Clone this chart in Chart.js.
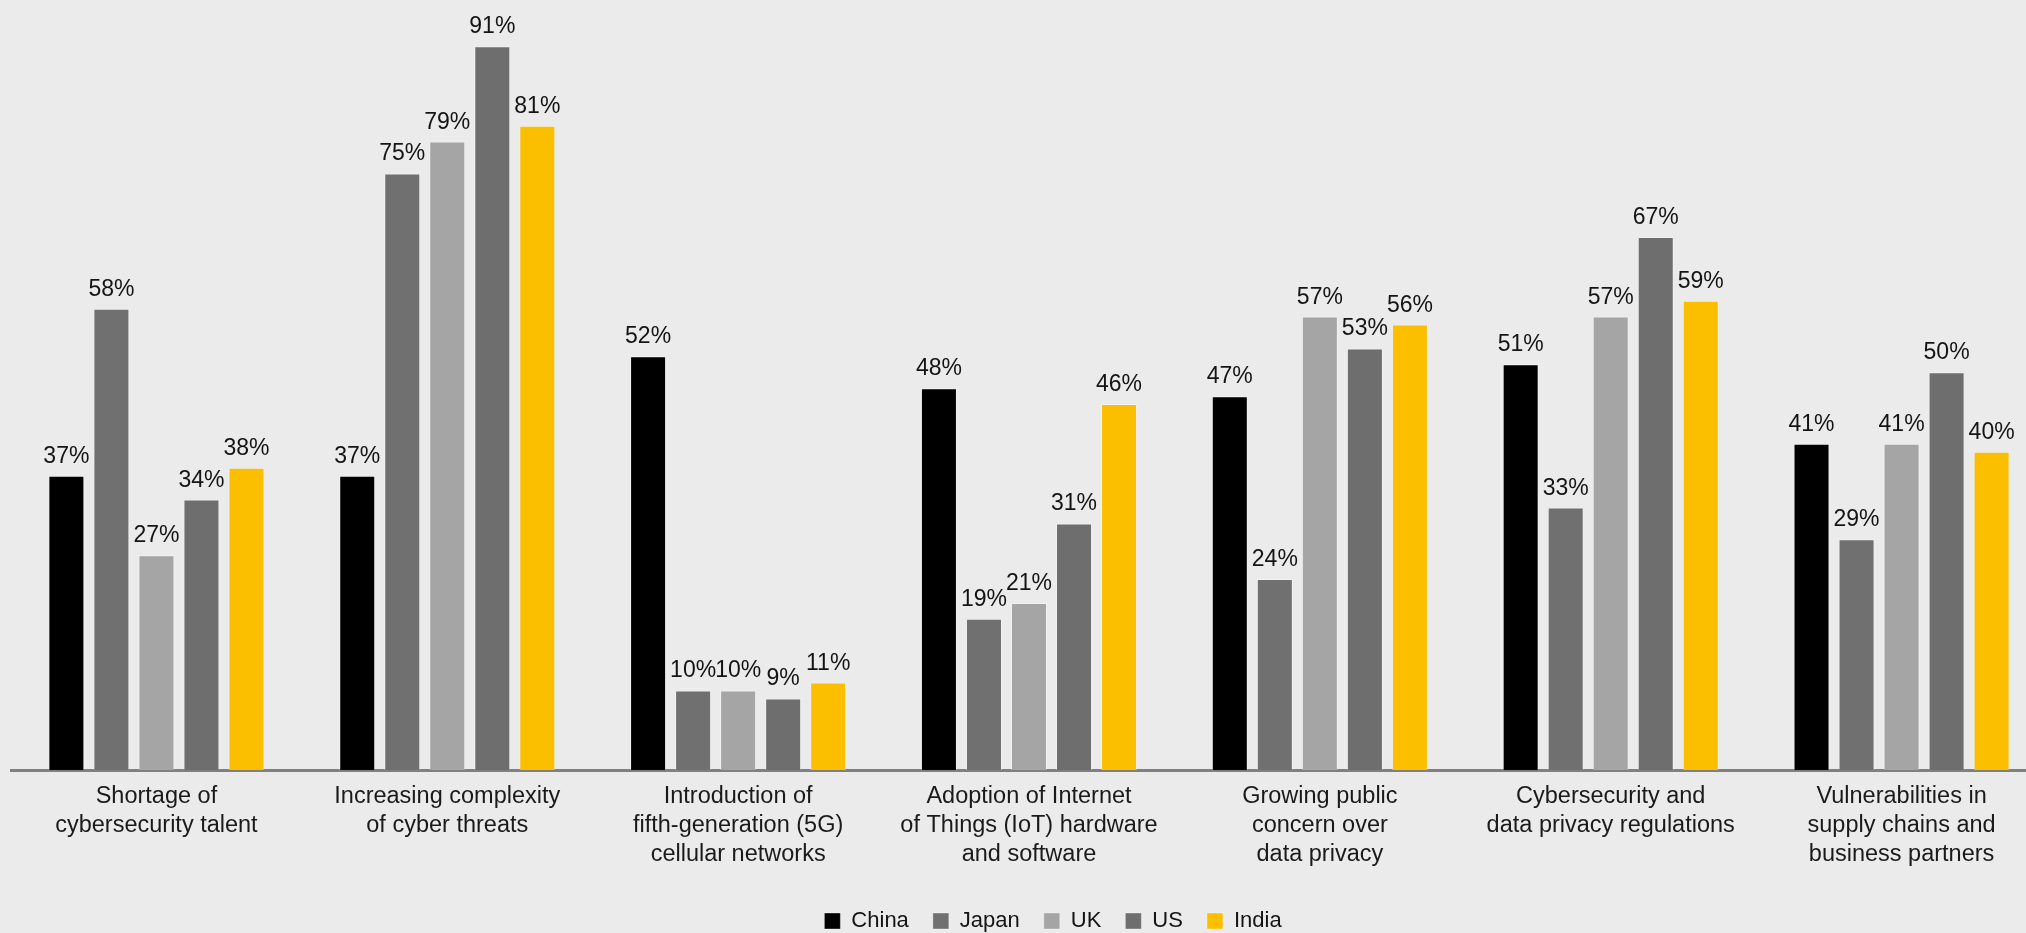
<!DOCTYPE html>
<html>
<head>
<meta charset="utf-8">
<script src="https://cdn.jsdelivr.net/npm/chart.js@4/dist/chart.umd.min.js"></script>
<style>
  html,body{margin:0;padding:0;background:#ebebeb;overflow:hidden;}
  #wrap{width:2048px;height:933px;position:relative;}
</style>
</head>
<body>
<div id="wrap"><canvas id="ch-threats"></canvas></div>
<script>
// categories (multi-line labels)
const categories = [
  ['Shortage of','cybersecurity talent'],
  ['Increasing complexity','of cyber threats'],
  ['Introduction of','fifth-generation (5G)','cellular networks'],
  ['Adoption of Internet','of Things (IoT) hardware','and software'],
  ['Growing public','concern over','data privacy'],
  ['Cybersecurity and','data privacy regulations'],
  ['Vulnerabilities in','supply chains and','business partners']
];
const china = [37, 37, 52, 48, 47, 51, 41];
const japan = [58, 75, 10, 19, 24, 33, 29];
const uk    = [27, 79, 10, 21, 57, 57, 41];
const us    = [34, 91,  9, 31, 53, 67, 50];
const india = [38, 81, 11, 46, 56, 59, 40];

const FONT = "'Liberation Sans', Arial, Helvetica, sans-serif";

// value labels, drawn per dataset so later bars sit over earlier text
const valueLabels = {
  id:'valueLabels',
  afterDatasetDraw(chart, args){
    const ctx = chart.ctx;
    const meta = args.meta;
    const ds = chart.data.datasets[args.index];
    ctx.save();
    ctx.font = '23px ' + FONT;
    ctx.fillStyle = '#141414';
    ctx.textAlign = 'center';
    ctx.textBaseline = 'alphabetic';
    meta.data.forEach((bar,i)=>{
      ctx.fillText(ds.data[i] + '%', bar.x, bar.y - 13);
    });
    ctx.restore();
  }
};

// nudge the legend row a bit right of centre
const legendShift = {
  id:'legendShift',
  afterLayout(chart){
    const lg = chart.legend;
    if(!lg) return;
    lg.left += 24; lg.right += 24;
  }
};

function mkSet(label, data, color){
  return {label, data, backgroundColor:color, borderColor:'rgba(255,255,255,0.35)', borderWidth:1,
          categoryPercentage:0.774, barPercentage:0.8};
}

new Chart(document.getElementById('ch-threats'), {
  type:'bar',
  data:{
    labels:categories,
    datasets:[
      mkSet('China', china, '#000000'),
      mkSet('Japan', japan, '#707070'),
      mkSet('UK', uk, '#a5a5a5'),
      mkSet('US', us, '#6e6e6e'),
      mkSet('India', india, '#fbbf00')
    ]
  },
  options:{
    responsive:true, maintainAspectRatio:false, animation:false, devicePixelRatio:1,
    layout:{padding:{left:11, right:1, top:0, bottom:-9}},
    plugins:{
      tooltip:{enabled:false},
      legend:{
        position:'bottom',
        labels:{font:{family:FONT,size:22}, color:'#141414', boxWidth:16, boxHeight:16, padding:24}
      }
    },
    scales:{
      x:{
        grid:{display:false, drawTicks:false},
        border:{display:true, color:'#808080', width:3},
        ticks:{font:{family:FONT,size:23.5,lineHeight:1.24}, color:'#1a1a1a', padding:12, maxRotation:0, autoSkip:false},
        afterFit(s){ s.height = 116; }
      },
      y:{display:false, min:0, max:96.8}
    }
  },
  plugins:[valueLabels, legendShift]
});
</script>
</body>
</html>
